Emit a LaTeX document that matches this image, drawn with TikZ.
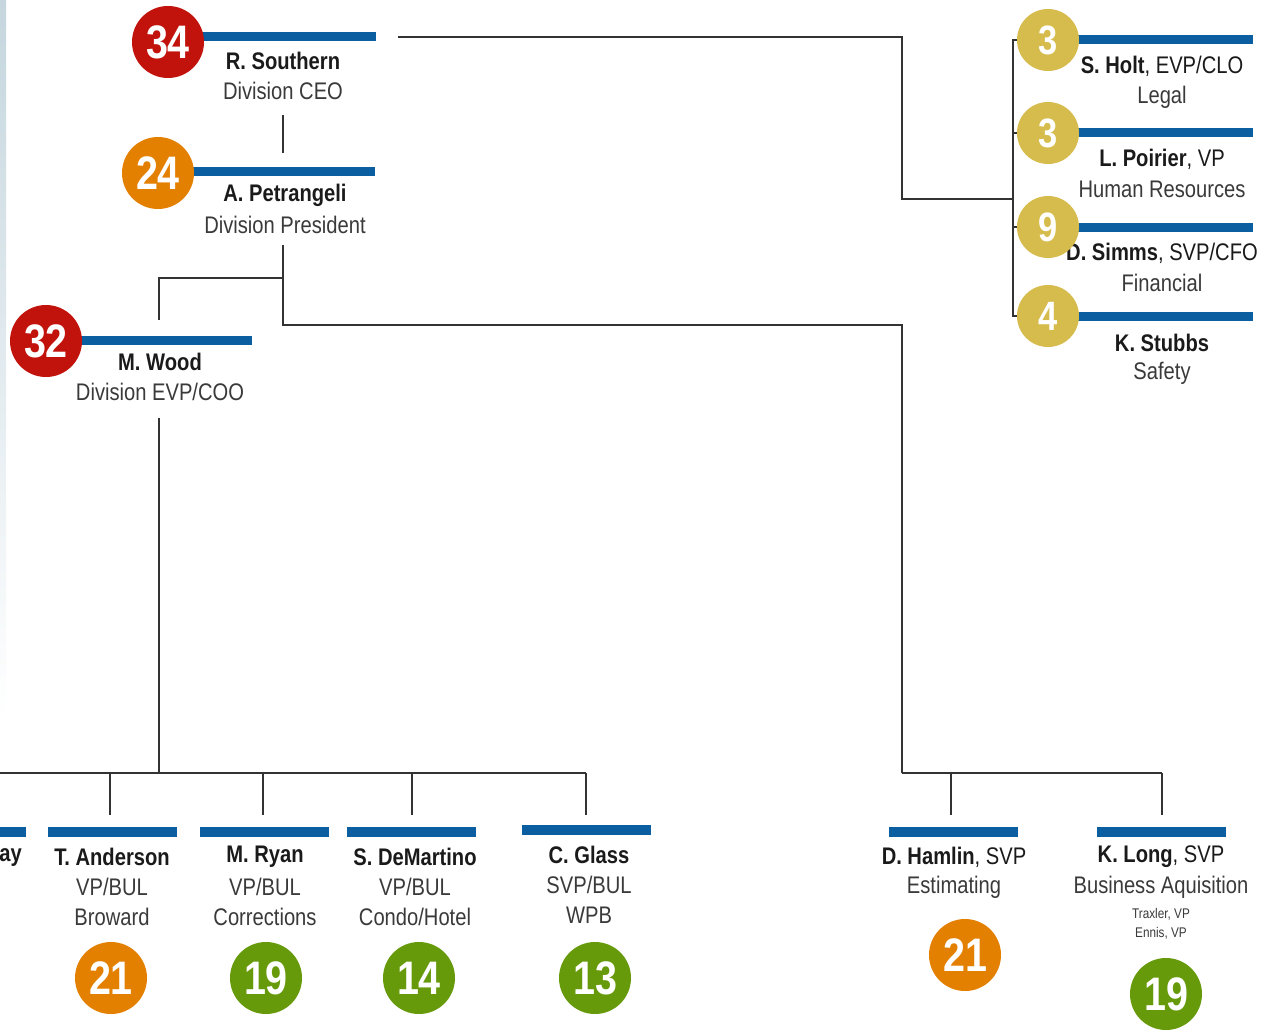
\documentclass[tikz,border=0pt]{standalone}
\usepackage{fontspec}
\setmainfont[FakeStretch=0.84]{Liberation Sans}
\definecolor{barblue}{HTML}{0B5EA0}
\definecolor{cred}{HTML}{C2120C}
\definecolor{corange}{HTML}{E48000}
\definecolor{cgreen}{HTML}{679A0B}
\definecolor{cgold}{HTML}{D6BC4C}
\definecolor{linecol}{HTML}{333333}
\definecolor{namecol}{HTML}{1A1A1A}
\definecolor{subcol}{HTML}{3A3A3A}
\definecolor{edgecol}{HTML}{C5D6DE}
\begin{document}
\begin{tikzpicture}[x=1pt,y=-1pt,
  bar/.style={fill=barblue, inner sep=0pt, minimum height=9pt, minimum width=#1},
  lowbar/.style={fill=barblue, inner sep=0pt, minimum height=10pt, minimum width=#1},
  badge/.style={circle, fill=#1, minimum size=72pt, inner sep=0pt, text=white, font=\fontsize{47}{47}\selectfont\bfseries},
  smallbadge/.style={circle, fill=#1, minimum size=62pt, inner sep=0pt, text=white, font=\fontsize{41}{41}\selectfont\bfseries},
  nm/.style={inner sep=0pt, text=namecol, font=\fontsize{24}{24}\selectfont\bfseries},
  sub/.style={inner sep=0pt, text=subcol, font=\fontsize{24}{24}\selectfont},
  tiny/.style={inner sep=0pt, text=subcol, font=\fontsize{14}{14}\selectfont},
  conn/.style={draw=linecol, line width=1.6pt}]
\useasboundingbox (0,0) rectangle (1267,1030);
\fill[white] (0,0) rectangle (1267,1030);
\shade[top color=edgecol, bottom color=white] (0,0) rectangle (6,720);

% --- top chain ---
\node[bar=176pt] (ceobar) at (288,37) {};
\node[badge=cred] (ceob) at (168,42) {34};
\node[nm] (ceon) at (283,61) {R. Southern};
\node[sub] (ceot) at (283,91) {Division CEO};

\node[bar=184pt] (presbar) at (283,172) {};
\node[badge=corange] (presb) at (158,173) {24};
\node[nm] (presn) at (285,195) {A. Petrangeli};
\node[sub] (prest) at (285,225) {Division President};

\node[bar=172pt] (coobar) at (166,340) {};
\node[badge=cred] (coob) at (46,341) {32};
\node[nm] (coon) at (160,362) {M. Wood};
\node[sub] (coot) at (160,392) {Division EVP/COO};

% --- staff column ---
\foreach \nm/\yy in {holt/40, poir/133, simm/227, stub/316}{
  \node[bar=178pt] (\nm bar) at (1164,\yy) {};
}
\node[nm] (holtn) at (1162,66) {S. Holt\mdseries, EVP/CLO};
\node[sub] (holtt) at (1162,97) {Legal};
\node[nm] (poirn) at (1162,159) {L. Poirier\mdseries, VP};
\node[sub] (poirt) at (1162,189) {Human Resources};
\node[nm] (simmn) at (1162,253) {D. Simms\mdseries, SVP/CFO};
\node[sub] (simmt) at (1162,283) {Financial};
\node[nm] (stubn) at (1162,343) {K. Stubbs};
\node[sub] (stubt) at (1162,373) {Safety};

% --- bottom row ---
\node[lowbar=26pt] (xbar) at (13,832) {};
\node[nm, anchor=east] (xn) at (22,858) {ay};
\node[lowbar=129pt] (andbar) at (112,832) {};
\node[nm] (andn) at (112,857) {T. Anderson};
\node[sub] (andt) at (112,887) {VP/BUL};
\node[sub] (andu) at (112,917) {Broward};
\node[lowbar=129pt] (ryanbar) at (264,832) {};
\node[nm] (ryann) at (265,857) {M. Ryan};
\node[sub] (ryant) at (265,887) {VP/BUL};
\node[sub] (ryanu) at (265,917) {Corrections};
\node[lowbar=129pt] (demabar) at (411,832) {};
\node[nm] (deman) at (415,857) {S. DeMartino};
\node[sub] (demat) at (415,887) {VP/BUL};
\node[sub] (demau) at (415,917) {Condo/Hotel};
\node[lowbar=129pt] (glasbar) at (586,830) {};
\node[nm] (glasn) at (589,855) {C. Glass};
\node[sub] (glast) at (589,885) {SVP/BUL};
\node[sub] (glasu) at (589,915) {WPB};
\node[lowbar=129pt] (hambar) at (953,832) {};
\node[nm] (hamn) at (954,857) {D. Hamlin\mdseries, SVP};
\node[sub] (hamt) at (954,887) {Estimating};
\node[lowbar=129pt] (longbar) at (1161,832) {};
\node[nm] (longn) at (1161,857) {K. Long\mdseries, SVP};
\node[sub] (longt) at (1161,887) {Business Aquisition};
\node[tiny] (longu) at (1161,914) {Traxler, VP};
\node[tiny] (longv) at (1161,933) {Ennis, VP};

\node[badge=corange] (andb) at (111,978) {21};
\node[badge=cgreen] (ryanb) at (266,978) {19};
\node[badge=cgreen] (demab) at (419,978) {14};
\node[badge=cgreen] (glasb) at (595,978) {13};
\node[badge=corange] (hamb) at (965,955) {21};
\node[badge=cgreen] (longb) at (1166,994) {19};

% --- connectors ---
\coordinate (ceoout) at (398,37);
\coordinate (staffj) at (902,199);
\coordinate (staffx) at (1013,199);
\draw[conn] (ceoout) -| (staffj) -- (staffx);
\draw[conn] (1025,40) -| (staffx) |- (1025,316);
\draw[conn] (1013,133) -- (1025,133);
\draw[conn] (1013,227) -- (1025,227);

\draw[conn] (ceot.south |- 0,115) -- (ceot.south |- 0,153);

\coordinate (presj) at (283,278);
\coordinate (estj) at (902,773);
\draw[conn] (presj |- 0,245) -- (presj) -- (283,325) -| (estj);
\draw[conn] (presj) -| (159,320);

\coordinate (opsj) at (159,773);
\draw[conn] (159,418) -- (opsj);
\draw[conn] (0,773) -- (586,773);
\draw[conn] (110,773) -- (110,815);
\draw[conn] (263,773) -- (263,815);
\draw[conn] (412,773) -- (412,815);
\draw[conn] (586,773) -- (586,815);

\draw[conn] (estj) -- (1162,773);
\draw[conn] (951,773) -- (951,815);
\draw[conn] (1162,773) -- (1162,815);

% staff badges on top
\node[smallbadge=cgold] (holtb) at (1048,40) {3};
\node[smallbadge=cgold] (poirb) at (1048,133) {3};
\node[smallbadge=cgold] (simmb) at (1048,227) {9};
\node[smallbadge=cgold] (stubb) at (1048,316) {4};
\end{tikzpicture}
\end{document}
